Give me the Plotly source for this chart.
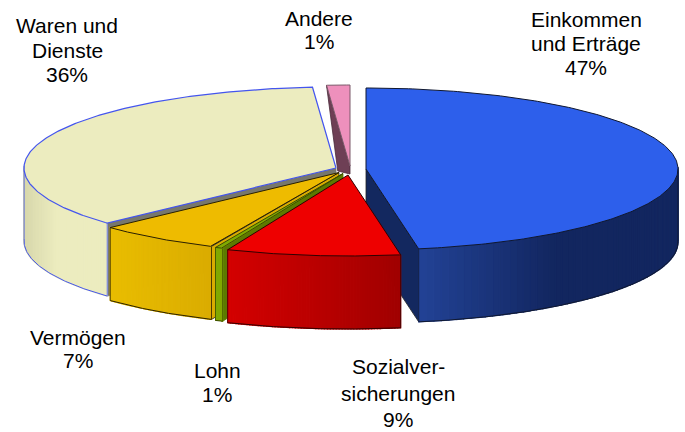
import math
import plotly.graph_objects as go

# Data (clockwise from 12 o'clock)
categories = ["Einkommen<br>und Erträge", "Sozialver-<br>sicherungen", "Lohn", "Vermögen", "Waren und<br>Dienste", "Andere"]
shares = [47.3, 9.0, 0.4, 6.4, 35.7, 1.2]
shown_percent = ["47%", "9%", "1%", "7%", "36%", "1%"]

# Appearance
RX, RY, DEPTH = 312, 81, 73
apex = [(366, 169), (348, 175), (343, 173.5), (339, 172.5), (336, 168), (350, 166)]
top_col = ["#2D5FEB", "#EE0000", "#80AA00", "#EEBB00", "#ECECBF", "#EE90BC"]
side_from = [(34, 66, 150), (212, 0, 0), (128, 170, 0), (233, 189, 0), (216, 216, 172), (110, 63, 85)]
side_to = [(18, 38, 95), (160, 0, 0), (128, 170, 0), (218, 172, 0), (236, 236, 191), (110, 63, 85)]
wall_col = ["#13285F", "#8a0000", "#5C7A00", "#D8AC00", "#77776C", "#6E3F55"]
edge_col = ["#101830", "#300000", "#3A4A00", "#2A2000", "#4455EE", "#7A5A6A"]
label_xy = [(586, 43), (398, 393), (217, 382), (78, 349), (67, 50), (319, 30)]
line_gap = [24, 26.5, 24, 23.5, 24.5, 23.5]
order = [5, 4, 0, 3, 2, 1]

total = sum(shares)
starts, s = [], 0.0
for v in shares:
    starts.append(s)
    s += v / total * 2 * math.pi


def rim(i, t):
    ax, ay = apex[i]
    return ax + RX * math.sin(t), ay - RY * math.cos(t)


def poly(xs, ys, fill, line=None, width=1.0):
    fig.add_trace(go.Scatter(
        x=list(xs) + [xs[0]], y=list(ys) + [ys[0]], mode="lines", fill="toself",
        fillcolor=fill, line=dict(color=line or fill, width=width), hoverinfo="skip", showlegend=False))


def path(xs, ys, color, width=1.0):
    fig.add_trace(go.Scatter(x=xs, y=ys, mode="lines", line=dict(color=color, width=width),
                             hoverinfo="skip", showlegend=False))


fig = go.Figure()
for i in order:
    a0 = starts[i]
    a1 = a0 + shares[i] / total * 2 * math.pi
    ax, ay = apex[i]
    arc = [a0 + (a1 - a0) * k / 240 for k in range(241)]
    px = [rim(i, t)[0] for t in arc]
    py = [rim(i, t)[1] for t in arc]

    if i == 5:
        # narrow back slice: only its short inner wall shows
        rx0, ry0 = px[0], py[0]
        poly([rx0, ax, ax, rx0 + 0.48 * (ax - rx0)], [ry0, ay, ay + 8, ry0 + 0.48 * (ay - ry0) + 47], wall_col[i], "#4A2A3A", 0.8)
    else:
        # radial wall on the edge that faces the viewer (the red slice shows none)
        if i != 1:
            wx, wy = (px[-1], py[-1]) if i == 0 else (px[0], py[0])
            poly([ax, wx, wx, ax], [ay, wy, wy + DEPTH, ay + DEPTH], wall_col[i], "#222222" if i in (0, 3) else wall_col[i], 0.8)
        # outer wall, shaded piecewise
        vis = [t for t in arc if (i not in (0, 4)) or (i == 0 and t >= math.pi / 2 - 0.03) or (i == 4 and t <= 3 * math.pi / 2 + 0.03)]
        seg = 60
        x_near = rim(i, vis[0])[0]
        x_far = rim(i, vis[-1])[0]
        for k in range(seg):
            j0 = int(k * (len(vis) - 1) / seg)
            j1 = int((k + 1) * (len(vis) - 1) / seg)
            if j1 <= j0:
                continue
            pts = vis[j0:j1 + 1]
            xm = rim(i, pts[len(pts) // 2])[0]
            f = abs(xm - x_near) / max(abs(x_far - x_near), 1)
            if i == 0:
                f = min(1.0, (1 - f) * 1.9)  # bright at the front corner, dark towards the right
            elif i == 4:
                f = min(1.0, (1 - f) * 2.6)
            elif i in (1, 3):
                f = 1 - f
            cf, ct = side_from[i], side_to[i]
            c = tuple(int(round(cf[n] + (ct[n] - cf[n]) * f)) for n in range(3))
            col = "rgb(%d,%d,%d)" % c
            xs = [rim(i, t)[0] for t in pts]
            ys = [rim(i, t)[1] for t in pts]
            poly(xs + xs[::-1], ys + [y + DEPTH for y in ys[::-1]], col, col, 1.2)
        vx = [rim(i, t)[0] for t in vis]
        vy = [rim(i, t)[1] + DEPTH for t in vis]
        path(vx, vy, edge_col[i], 1.0)
        path([vx[0], vx[0]], [vy[0] - DEPTH, vy[0]], edge_col[i], 0.8)
        path([vx[-1], vx[-1]], [vy[-1] - DEPTH, vy[-1]], edge_col[i], 0.8)
    # top face
    poly([ax] + px, [ay] + py, top_col[i], edge_col[i], 1.2 if i == 4 else 1.0)

for i, (lx, ly) in enumerate(label_xy):
    lines = (categories[i] + "<br>" + shown_percent[i]).split("<br>")
    for k, txt in enumerate(lines):
        fig.add_annotation(x=lx, y=ly + (k - (len(lines) - 1) / 2) * line_gap[i], xref="x", yref="y",
                           showarrow=False, align="center", text=txt,
                           font=dict(family="Liberation Sans, Arial, sans-serif", size=21, color="#000000"))

fig.update_layout(
    width=685, height=432, autosize=False, margin=dict(l=0, r=0, t=0, b=0),
    paper_bgcolor="white", plot_bgcolor="white", showlegend=False,
    xaxis=dict(range=[0, 685], visible=False, fixedrange=True),
    yaxis=dict(range=[432, 0], visible=False, fixedrange=True),
)
fig.write_html("out.html", config={"displayModeBar": False},
               post_script="document.body.style.margin='0';document.documentElement.style.overflow='hidden';")
